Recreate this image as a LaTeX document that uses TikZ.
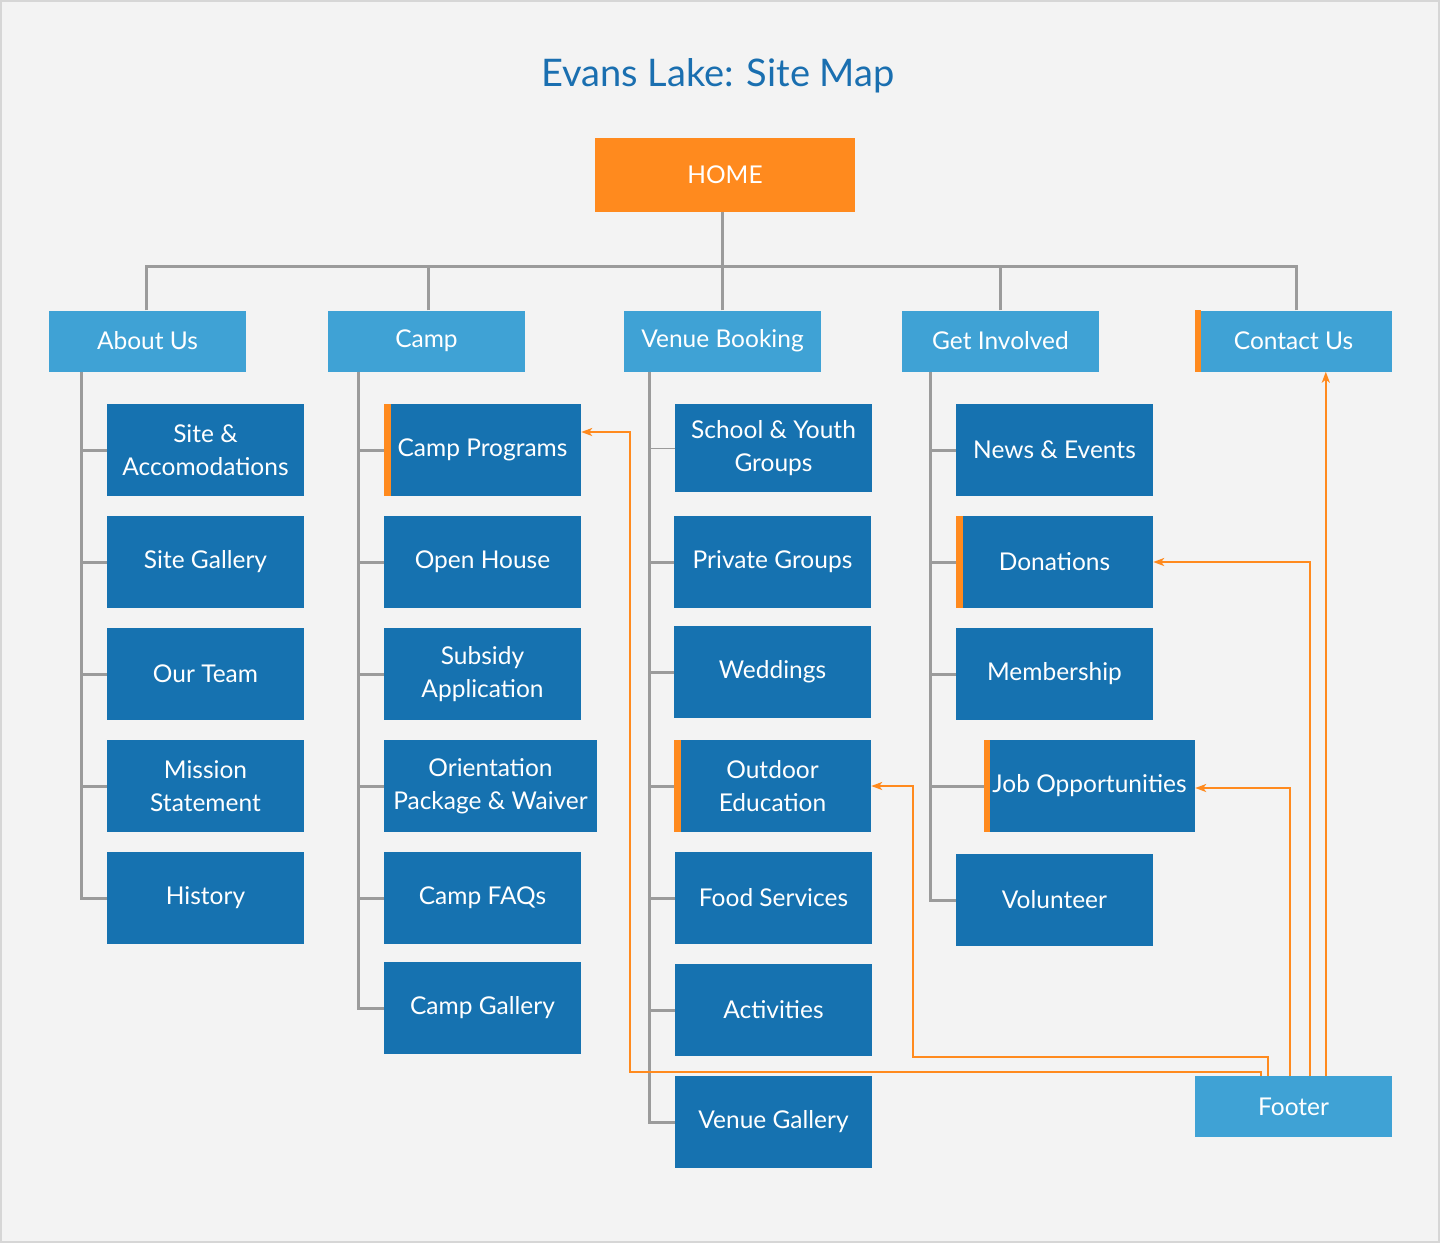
\documentclass[tikz,border=0pt]{standalone}
\usepackage{fontspec}
\setmainfont{Lato}
\usetikzlibrary{arrows.meta}
\definecolor{dkblue}{HTML}{1672B0}
\definecolor{ltblue}{HTML}{3FA2D5}
\definecolor{orng}{HTML}{FF8A1E}
\definecolor{treegray}{HTML}{9B9B9B}
\definecolor{bggray}{HTML}{F3F3F3}
\definecolor{framegray}{HTML}{D6D6D6}
\definecolor{titleblue}{HTML}{1A6FB0}
\tikzset{
  box/.style={rectangle, inner sep=0pt, fill=dkblue, text=white, align=center,
    minimum width=197pt, minimum height=92pt, font=\fontsize{24.5}{33}\selectfont},
  topbox/.style={box, fill=ltblue, minimum height=61pt},
  homebox/.style={box, fill=orng, minimum width=260pt, minimum height=74pt},
  tree/.style={draw=treegray, line width=3pt},
  thintree/.style={draw=treegray, line width=1pt},
  link/.style={draw=orng, line width=2pt, -{Stealth[length=11pt,width=8pt,inset=3pt]}},
  bar/.style={fill=orng}
}
\begin{document}
\begin{tikzpicture}[x=1pt,y=-1pt]
\fill[framegray] (0,0) rectangle (1440,1243);
\fill[bggray] (2,2) rectangle (1438,1241);
\useasboundingbox (0,0) rectangle (1440,1243);

\node[text=titleblue, font=\fontsize{38}{44}\selectfont] (title) at (718,76) {Evans Lake: Site Map};
\node[homebox] (home) at (725,175) {HOME};

% top level
\node[topbox] (about) at (147.5,341) {About Us};
\node[topbox] (camp) at (426.5,341) {Camp};
\node[topbox] (venue) at (722.5,341) {Venue Booking};
\node[topbox] (inv) at (1000.5,341) {Get Involved};
\node[topbox] (contact) at (1293.5,341) {Contact Us};
\fill[bar] (contact.north west) rectangle ([xshift=6pt]contact.south west);

% about children
\node[box] (site) at (205.5,450) {Site \&\\Accomodations};
\node[box] (gal) at (205.5,562) {Site Gallery};
\node[box] (team) at (205.5,674) {Our Team};
\node[box] (mission) at (205.5,786) {Mission\\Statement};
\node[box] (hist) at (205.5,898) {History};

% camp children
\node[box] (cprog) at (482.5,450) {Camp Programs};
\fill[bar] (cprog.north west) rectangle ([xshift=7pt]cprog.south west);
\node[box] (open) at (482.5,562) {Open House};
\node[box] (subs) at (482.5,674) {Subsidy\\Application};
\node[box, minimum width=213pt] (orient) at (490.5,786) {Orientation\\Package \& Waiver};
\node[box] (faq) at (482.5,898) {Camp FAQs};
\node[box] (cgal) at (482.5,1008) {Camp Gallery};

% venue children
\node[box, minimum height=88pt] (school) at (773.5,448) {School \& Youth\\Groups};
\node[box] (priv) at (772.5,562) {Private Groups};
\node[box] (wed) at (772.5,672) {Weddings};
\node[box] (oe) at (772.5,786) {Outdoor\\Education};
\fill[bar] (oe.north west) rectangle ([xshift=7pt]oe.south west);
\node[box] (food) at (773.5,898) {Food Services};
\node[box] (act) at (773.5,1010) {Activities};
\node[box] (vgal) at (773.5,1122) {Venue Gallery};

% get involved children
\node[box] (news) at (1054.5,450) {News \& Events};
\node[box] (don) at (1054.5,562) {Donations};
\fill[bar] (don.north west) rectangle ([xshift=7pt]don.south west);
\node[box] (memb) at (1054.5,674) {Membership};
\node[box, minimum width=211pt] (job) at (1089.5,786) {Job Opportunities};
\fill[bar] (job.north west) rectangle ([xshift=6pt]job.south west);
\node[box] (vol) at (1054.5,900) {Volunteer};

\node[topbox] (footer) at (1293.5,1106.5) {Footer};

% tree from home
\coordinate (bus) at (722,266);
\draw[tree] (home.south -| bus) -- (bus);
\draw[tree] ([xshift=-1.5pt]about.north) |- (bus);
\draw[tree] ([xshift=1.5pt]camp.north) |- (bus);
\draw[tree] (venue.north -| bus) -- (bus);
\draw[tree] ([xshift=-0.5pt]inv.north) |- (bus);
\draw[tree] ([xshift=2.5pt]contact.north) |- (bus);

% about branch
\coordinate (al) at ([xshift=33pt]about.south west);
\draw[tree] (al) |- (hist.west);
\foreach \n in {site,gal,team,mission} \draw[tree] (\n.west -| al) -- (\n.west);

% camp branch
\coordinate (cl) at ([xshift=31pt]camp.south west);
\draw[tree] (cl) |- (cgal.west);
\foreach \n in {cprog,open,subs,orient,faq} \draw[tree] (\n.west -| cl) -- (\n.west);

% venue branch
\coordinate (vl) at ([xshift=26pt]venue.south west);
\draw[tree] (vl) |- (vgal.west);
\draw[thintree] (school.west -| vl) -- (school.west);
\foreach \n in {priv,wed,oe,food,act} \draw[tree] (\n.west -| vl) -- (\n.west);

% get involved branch
\coordinate (gl) at ([xshift=29pt]inv.south west);
\draw[tree] (gl) |- (vol.west);
\foreach \n in {news,don,memb,job} \draw[tree] (\n.west -| gl) -- (\n.west);

% footer links
\draw[link] ([xshift=66pt]footer.north west) |- (630,1072) |- ([yshift=18pt]cprog.east);
\draw[link] ([xshift=73pt]footer.north west) |- (913,1057) |- (oe.east);
\draw[link] ([xshift=95pt]footer.north west) |- ([yshift=-2pt]job.east);
\draw[link] ([xshift=115.5pt]footer.north west) |- (don.east);
\draw[link] ([xshift=131pt]footer.north west) -- ([xshift=131pt]contact.south west);
\end{tikzpicture}
\end{document}
